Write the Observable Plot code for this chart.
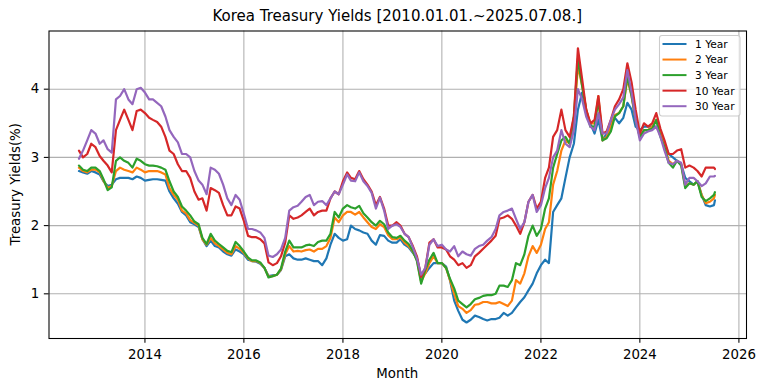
<!DOCTYPE html>
<html>
<head>
<meta charset="utf-8">
<script src="https://cdn.jsdelivr.net/npm/d3@7"></script>
<script src="https://cdn.jsdelivr.net/npm/@observablehq/plot@0.6"></script>
<style>
  html, body { margin: 0; padding: 0; background: #fff; }
  #chart svg { display: block; }
</style>
</head>
<body>
<div id="chart"></div>
<script>
// ---- data (monthly samples, % yields) ----
const titleText = "Korea Treasury Yields [2010.01.01.~2025.07.08.]";
const xLabel = "Month";
const yLabel = "Treasury Yields(%)";
const seriesNames = ["1 Year", "2 Year", "3 Year", "10 Year", "30 Year"];
const seriesColors = ["#1f77b4", "#ff7f0e", "#2ca02c", "#d62728", "#9467bd"];
const xTickYears = [2014, 2016, 2018, 2020, 2022, 2024, 2026];
const yTicks = [1, 2, 3, 4];
const firstMonth = "2012-09-01";
const lastMonth = "2025-07-01";
const lastDay = "2025-07-08";

const y1 = [
  2.80, 2.78, 2.76, 2.80,
  2.78, 2.75, 2.65, 2.58, 2.60, 2.68, 2.70, 2.70, 2.70, 2.68, 2.72, 2.70,
  2.66, 2.67, 2.68, 2.68, 2.67, 2.66, 2.50, 2.40, 2.32, 2.20, 2.15, 2.05,
  2.02, 1.98, 1.80, 1.70, 1.78, 1.70, 1.68, 1.62, 1.58, 1.56, 1.65, 1.62,
  1.58, 1.50, 1.48, 1.47, 1.44, 1.38, 1.26, 1.27, 1.28, 1.35, 1.55, 1.58,
  1.52, 1.50, 1.50, 1.52, 1.50, 1.48, 1.48, 1.42, 1.52, 1.72, 1.88, 1.82,
  1.78, 1.80, 2.00, 1.95, 1.93, 1.90, 1.88, 1.78, 1.72, 1.86, 1.85, 1.78,
  1.75, 1.75, 1.80, 1.72, 1.68, 1.60, 1.52, 1.25, 1.30, 1.38, 1.45, 1.45,
  1.45, 1.40, 1.20, 0.90, 0.75, 0.62, 0.58, 0.62, 0.68, 0.66, 0.63, 0.61,
  0.63, 0.63, 0.65, 0.72, 0.68, 0.72, 0.80, 0.88, 0.95, 1.05, 1.15, 1.30,
  1.42, 1.50, 1.45, 2.20, 2.30, 2.40, 2.70, 3.00, 3.20, 3.70, 3.95, 3.65,
  3.50, 3.35, 3.55, 3.25, 3.35, 3.50, 3.58, 3.50, 3.58, 3.80, 3.70, 3.45,
  3.40, 3.45, 3.45, 3.45, 3.45, 3.35, 3.20, 3.05, 3.00, 2.95, 2.90, 2.70,
  2.65, 2.60, 2.65, 2.45, 2.30, 2.28, 2.30, 2.37
];
const y2 = [
  2.85, 2.80, 2.78, 2.82,
  2.82, 2.78, 2.66, 2.55, 2.58, 2.80, 2.85, 2.82, 2.80, 2.78, 2.85, 2.82,
  2.78, 2.80, 2.80, 2.80, 2.78, 2.75, 2.55, 2.45, 2.38, 2.22, 2.18, 2.08,
  2.04, 2.00, 1.80, 1.72, 1.82, 1.74, 1.70, 1.65, 1.60, 1.58, 1.70, 1.66,
  1.60, 1.52, 1.48, 1.48, 1.45, 1.38, 1.25, 1.26, 1.28, 1.36, 1.58, 1.70,
  1.62, 1.63, 1.62, 1.64, 1.65, 1.62, 1.66, 1.66, 1.70, 1.82, 2.12, 2.05,
  2.15, 2.20, 2.20, 2.16, 2.20, 2.12, 2.05, 1.98, 1.95, 2.02, 1.98, 1.86,
  1.80, 1.80, 1.83, 1.75, 1.70, 1.62, 1.50, 1.18, 1.30, 1.45, 1.55, 1.45,
  1.45, 1.38, 1.20, 1.00, 0.82, 0.78, 0.72, 0.76, 0.84, 0.85, 0.88, 0.88,
  0.86, 0.86, 0.88, 0.85, 0.82, 0.90, 1.20, 1.15, 1.30, 1.55, 1.70, 1.60,
  1.72, 1.95, 2.05, 2.60, 2.80, 3.10, 3.25, 3.20, 3.50, 4.35, 4.05, 3.70,
  3.50, 3.50, 3.90, 3.25, 3.30, 3.45, 3.62, 3.65, 3.75, 4.15, 3.90, 3.55,
  3.30, 3.40, 3.40, 3.45, 3.55, 3.35, 3.18, 2.95, 2.90, 2.95, 2.90, 2.58,
  2.62, 2.60, 2.65, 2.45, 2.33, 2.35, 2.40, 2.45
];
const y3 = [
  2.88, 2.82, 2.80, 2.85,
  2.85, 2.80, 2.68, 2.52, 2.56, 2.95, 3.00, 2.95, 2.92, 2.85, 2.98, 2.95,
  2.90, 2.88, 2.88, 2.87, 2.85, 2.82, 2.65, 2.50, 2.42, 2.28, 2.22, 2.15,
  2.06, 2.02, 1.82, 1.73, 1.88, 1.78, 1.73, 1.68, 1.63, 1.61, 1.76, 1.70,
  1.62, 1.53, 1.49, 1.49, 1.46, 1.38, 1.24, 1.26, 1.28, 1.37, 1.62, 1.78,
  1.68, 1.68, 1.68, 1.71, 1.72, 1.70, 1.76, 1.78, 1.78, 1.88, 2.20, 2.12,
  2.25, 2.30, 2.27, 2.25, 2.29, 2.18, 2.12, 2.05, 2.00, 2.07, 2.02, 1.90,
  1.83, 1.82, 1.85, 1.78, 1.73, 1.63, 1.48, 1.15, 1.35, 1.50, 1.60, 1.45,
  1.45, 1.38, 1.22, 1.08, 0.90, 0.85, 0.80, 0.85, 0.92, 0.94, 0.97, 0.98,
  0.98, 1.00, 1.12, 1.12, 1.10, 1.20, 1.45, 1.42, 1.58, 1.85, 2.00, 1.85,
  1.95, 2.25, 2.40, 2.85, 3.05, 3.25, 3.30, 3.20, 3.60, 4.45, 4.05, 3.70,
  3.45, 3.45, 3.85, 3.25, 3.28, 3.38, 3.60, 3.65, 3.75, 4.20, 3.90, 3.55,
  3.30, 3.40, 3.40, 3.42, 3.55, 3.30, 3.15, 2.92, 2.85, 2.95, 2.88, 2.55,
  2.62, 2.60, 2.65, 2.42, 2.36, 2.40, 2.45, 2.49
];
const y10 = [
  3.10, 3.00, 3.05, 3.20,
  3.15, 3.02, 2.95, 2.88, 2.78, 3.40, 3.55, 3.70, 3.55, 3.40, 3.68, 3.70,
  3.65, 3.58, 3.55, 3.52, 3.45, 3.30, 3.10, 3.05, 2.90, 2.80, 2.80, 2.70,
  2.50, 2.38, 2.40, 2.22, 2.55, 2.52, 2.48, 2.30, 2.15, 2.15, 2.28, 2.25,
  2.07, 1.85, 1.83, 1.83, 1.80, 1.74, 1.46, 1.42, 1.45, 1.55, 1.75, 2.15,
  2.10, 2.12, 2.15, 2.20, 2.25, 2.15, 2.20, 2.22, 2.22, 2.40, 2.50, 2.46,
  2.65, 2.78, 2.70, 2.68, 2.80, 2.68, 2.60, 2.50, 2.30, 2.42, 2.25, 2.00,
  2.00, 2.05, 2.00, 1.88, 1.83, 1.70, 1.55, 1.25, 1.38, 1.75, 1.80, 1.68,
  1.68, 1.65, 1.55, 1.50, 1.42, 1.45, 1.38, 1.42, 1.55, 1.60, 1.66, 1.72,
  1.78, 1.85, 2.10, 2.12, 2.15, 2.10, 2.00, 1.88, 2.05, 2.35, 2.45, 2.25,
  2.35, 2.70, 2.85, 3.30, 3.40, 3.70, 3.40, 3.30, 3.60, 4.60, 4.15, 3.70,
  3.50, 3.55, 3.90, 3.35, 3.38, 3.55, 3.75, 3.85, 4.00, 4.38, 4.10, 3.70,
  3.35, 3.50, 3.45, 3.50, 3.65, 3.42, 3.25, 3.05, 3.05, 3.10, 3.12, 2.85,
  2.88, 2.85, 2.80, 2.72, 2.85, 2.85, 2.85, 2.83
];
const y30 = [
  2.98, 3.10, 3.25, 3.40,
  3.35, 3.20, 3.25, 3.12, 3.07, 3.85, 3.90, 4.00, 3.85, 3.78, 4.00, 4.02,
  3.95, 3.85, 3.85, 3.80, 3.75, 3.60, 3.40, 3.30, 3.22, 3.05, 3.05, 3.00,
  2.80, 2.66, 2.60, 2.46, 2.85, 2.82, 2.76, 2.60, 2.40, 2.30, 2.45, 2.38,
  2.17, 1.95, 1.95, 1.93, 1.90, 1.82, 1.56, 1.54, 1.58, 1.65, 1.82, 2.22,
  2.27, 2.29, 2.35, 2.42, 2.45, 2.30, 2.35, 2.36, 2.30, 2.40, 2.50, 2.46,
  2.60, 2.75, 2.66, 2.65, 2.78, 2.65, 2.58, 2.48, 2.25, 2.41, 2.22, 1.95,
  2.00, 2.02, 1.98, 1.88, 1.83, 1.68, 1.52, 1.28, 1.38, 1.72, 1.80, 1.70,
  1.72, 1.65, 1.62, 1.70, 1.55, 1.62, 1.58, 1.56, 1.66, 1.70, 1.72, 1.78,
  1.83, 1.95, 2.15, 2.20, 2.22, 2.25, 2.10, 1.95, 2.05, 2.35, 2.45, 2.20,
  2.30, 2.55, 2.70, 3.00, 3.10, 3.40, 3.20, 3.15, 3.40, 4.00, 3.85, 3.60,
  3.45, 3.40, 3.65, 3.35, 3.35, 3.55, 3.70, 3.78, 3.88, 4.28, 3.95, 3.55,
  3.25, 3.35, 3.38, 3.40, 3.45, 3.30, 3.10, 2.92, 2.90, 2.95, 2.92, 2.60,
  2.70, 2.70, 2.65, 2.58, 2.62, 2.72, 2.72, 2.73
];
const seriesValues = [y1, y2, y3, y10, y30];

// sample dates: first of each month, then the final day
const dates = d3.utcMonth.range(new Date(firstMonth), d3.utcDay.offset(new Date(lastMonth), 1));
dates.push(new Date(lastDay));

const rows = [];
seriesNames.forEach((name, i) => {
  seriesValues[i].forEach((v, j) => {
    if (j < dates.length) rows.push({ date: dates[j], value: v, series: name });
  });
});

const xTicks = xTickYears.map(y => new Date(Date.UTC(y, 0, 1)));
const W = 765, H = 391;
const mL = 48.5, mR = 19, mT = 30.5, mB = 53;
const pt = 96 / 72;

const plot = Plot.plot({
  width: W, height: H,
  marginLeft: mL, marginRight: mR, marginTop: mT, marginBottom: mB,
  style: { fontFamily: "DejaVu Sans", fontSize: "13.33px", background: "#fff", color: "#000", overflow: "visible" },
  x: { type: "utc", domain: [new Date("2012-01-24"), new Date("2026-02-26")] },
  y: { domain: [0.345, 4.853] },
  color: { domain: seriesNames, range: seriesColors },
  marks: [
    Plot.gridX(xTicks, { stroke: "#b0b0b0", strokeOpacity: 1, strokeWidth: 0.8 * pt }),
    Plot.gridY(yTicks, { stroke: "#b0b0b0", strokeOpacity: 1, strokeWidth: 0.8 * pt }),
    Plot.lineY(rows, { x: "date", y: "value", z: "series", stroke: "series", strokeWidth: 2.2, strokeLinejoin: "round" }),
    Plot.frame({ stroke: "#000", strokeWidth: 0.8 * pt }),
    Plot.axisX(xTicks, { tickFormat: d3.utcFormat("%Y"), tickSize: 3.5 * pt, tickPadding: 6.8, strokeWidth: 0.8 * pt, fontSize: 13.33, label: null }),
    Plot.axisY(yTicks, { tickFormat: d3.format("d"), tickSize: 3.5 * pt, tickPadding: 5.2, strokeWidth: 0.8 * pt, fontSize: 13.33, label: null })
  ]
});

document.getElementById("chart").appendChild(plot);

// title, axis labels and legend
const svg = d3.select(plot);
const font = "DejaVu Sans";
const cx = (mL + (W - mR)) / 2;
svg.append("text").attr("x", cx).attr("y", 21).attr("text-anchor", "middle")
  .attr("font-family", font).attr("font-size", 15).attr("fill", "#000").text(titleText);
svg.append("text").attr("x", cx).attr("y", 378).attr("text-anchor", "middle")
  .attr("font-family", font).attr("font-size", 13.33).attr("fill", "#000").text(xLabel);
svg.append("text").attr("transform", `translate(19.6,${(mT + (H - mB)) / 2}) rotate(-90)`)
  .attr("text-anchor", "middle").attr("font-family", font).attr("font-size", 13.33).attr("fill", "#000").text(yLabel);

const lg = svg.append("g");
lg.append("rect").attr("x", 659.5).attr("y", 35.5).attr("width", 80.5).attr("height", 80.5)
  .attr("rx", 2.5).attr("fill", "#fff").attr("fill-opacity", 0.8).attr("stroke", "#cccccc").attr("stroke-width", 1.07);
seriesNames.forEach((name, i) => {
  const yy = 44 + i * 15.55;
  lg.append("line").attr("x1", 662.5).attr("x2", 686.5).attr("y1", yy).attr("y2", yy)
    .attr("stroke", seriesColors[i]).attr("stroke-width", 2);
  lg.append("text").attr("x", 695).attr("y", yy + 3.9).attr("text-anchor", "start").attr("font-family", font).attr("font-size", 10.67)
    .attr("fill", "#000").text(name);
});
</script>
</body>
</html>
